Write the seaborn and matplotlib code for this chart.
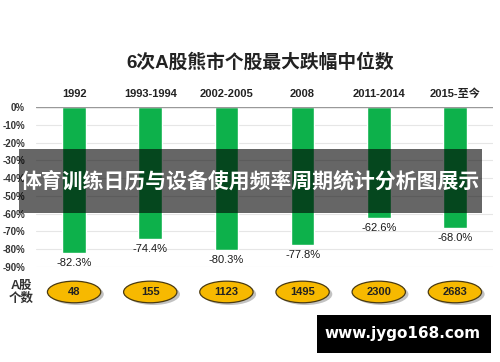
import matplotlib
matplotlib.use("Agg")
import matplotlib.pyplot as plt
import matplotlib.transforms as mtransforms
from matplotlib.patches import Ellipse, Rectangle
import seaborn as sns
import pandas as pd

categories = ["1992", "1993-1994", "2002-2005", "2008", "2011-2014", "2015-至今"]
drops = [-82.3, -74.4, -80.3, -77.8, -62.6, -68.0]
stock_counts = [48, 155, 1123, 1495, 2300, 2683]
yticks = [0, -10, -20, -30, -40, -50, -60, -70, -80, -90]

sns.set_theme(style="white")
plt.rcParams["font.family"] = ["Liberation Sans", "Noto Sans CJK SC", "DejaVu Sans"]

df = pd.DataFrame({"period": categories, "drop": drops})

fig = plt.figure(figsize=(5, 3.62), dpi=100)
fig.patch.set_facecolor("white")
ax = fig.add_axes([0.072, 0.2624, 0.914, 0.442])

sns.barplot(data=df, x="period", y="drop", color="#0db14b", saturation=1,
            width=0.31, ax=ax)

ax.set_ylim(-90, 0)
ax.set_xlim(-0.5, len(categories) - 0.5)
ax.set_yticks(yticks)
ax.set_yticklabels([f"{t}%" for t in yticks], fontsize=7, fontweight="bold", color="#333333")
ax.yaxis.grid(True, color="#e6e6e6", linewidth=0.8)
ax.set_axisbelow(True)
ax.axhline(0, color="#999999", linewidth=1, zorder=3)
for s in ax.spines.values():
    s.set_visible(False)
ax.tick_params(axis="y", length=0, pad=8)
ax.xaxis.tick_top()
ax.tick_params(axis="x", length=0, pad=6)
ax.set_xticks(range(len(categories)))
ax.set_xticklabels(categories, fontsize=8, fontweight="bold", color="#222222")
ax.set_xlabel("")
ax.set_ylabel("")

for i, v in enumerate(drops):
    ax.annotate(f"{v:.1f}%", xy=(i, v), xytext=(0, -3.5), textcoords="offset points",
                ha="center", va="top", fontsize=8, color="#1a1a1a", annotation_clip=False)

trans = mtransforms.blended_transform_factory(ax.transData, ax.transAxes)
for i, n in enumerate(stock_counts):
    sh = Ellipse((i + 0.04, -0.17), 0.70, 0.135, transform=trans, facecolor="#9a9a9a",
                 edgecolor="none", alpha=0.6, clip_on=False, zorder=2)
    ax.add_patch(sh)
    el = Ellipse((i, -0.156), 0.70, 0.135, transform=trans, facecolor="#f7b900",
                 edgecolor="#4a3a10", linewidth=0.9, clip_on=False, zorder=3)
    ax.add_patch(el)
    ax.text(i, -0.156, str(n), transform=trans, ha="center", va="center",
            fontsize=8, fontweight="bold", color="#222222", zorder=4)

fig.text(0.042, 0.193, "A股\n个数", ha="center", va="center", fontsize=9,
         fontweight="bold", color="#333333", linespacing=1.1)

fig.text(0.52, 0.826, "6次A股熊市个股最大跌幅中位数", ha="center", va="center",
         fontsize=13.5, fontweight="bold", color="#222222")

fig.patches.append(Rectangle((0.038, 0.4116), 0.926, 0.1768, transform=fig.transFigure,
                             facecolor="black", alpha=0.6, edgecolor="none", zorder=10))
fig.text(0.5, 0.5, "体育训练日历与设备使用频率周期统计分析图展示", ha="center", va="center",
         fontsize=15, fontweight="bold", color="white", zorder=11)

fig.patches.append(Rectangle((0.634, 0.025), 0.348, 0.105, transform=fig.transFigure,
                             facecolor="black", edgecolor="none", zorder=10))
fig.text(0.806, 0.0775, "www.jygo168.com", ha="center", va="center",
         fontsize=11, fontweight="bold", color="white", family=["DejaVu Sans"], zorder=11)

fig.savefig("out.png", dpi=100, facecolor="white")
